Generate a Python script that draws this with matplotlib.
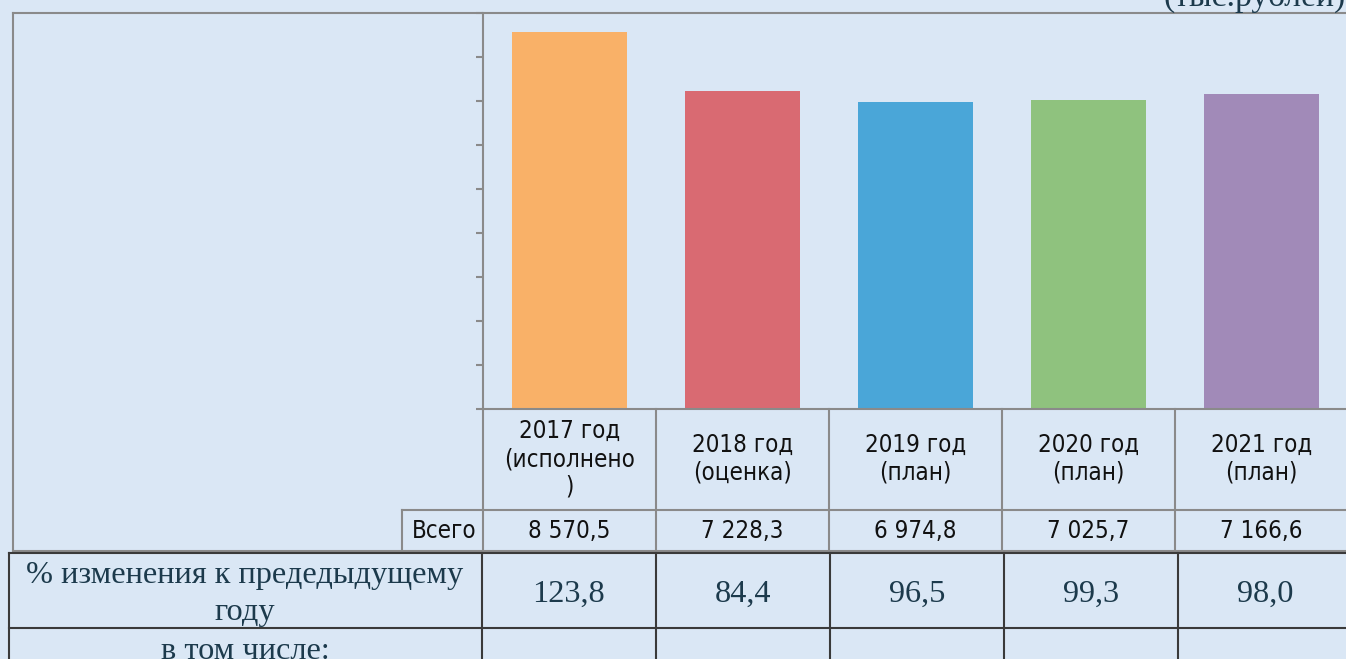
import matplotlib
matplotlib.use('Agg')
import matplotlib.pyplot as plt

W, H = 1346, 659

# data
categories = ['2017 год\n(исполнено\n)', '2018 год\n(оценка)', '2019 год\n(план)',
              '2020 год\n(план)', '2021 год\n(план)']
totals = [8570.5, 7228.3, 6974.8, 7025.7, 7166.6]
change_pct = [123.8, 84.4, 96.5, 99.3, 98.0]
bar_colors = ['#f9b168', '#d96a72', '#4aa6d8', '#8fc27e', '#a18ab8']
unit_label = '(тыс.рублей)'
total_label = 'Всего'
change_label = '% изменения к предедыдущему\nгоду'
incl_label = 'в том числе:'

SANS = dict(family='DejaVu Sans', fontstretch='condensed')
SERIF = dict(family='Liberation Serif')
GRAY = '#8a8a8a'
DARK = '#3a3a3a'
NAVY = '#1c3a4c'
SANS_SIZE = 17.3
SERIF_SIZE = 23.3


def fmt_total(v):
    return '{:,.1f}'.format(v).replace(',', ' ').replace('.', ',')


def fmt_pct(v):
    return '{:.1f}'.format(v).replace('.', ',')


fig = plt.figure(figsize=(W / 100, H / 100), dpi=100, facecolor='#dae7f5')

# bar area in pixel layout
left, right, top, bottom = 483, 1348, 13, 409
ax = fig.add_axes([left / W, 1 - bottom / H, (right - left) / W, (bottom - top) / H])
ax.set_facecolor('none')
x = list(range(len(totals)))
ax.bar(x, totals, width=0.66, color=bar_colors, zorder=2)
ax.set_xlim(-0.5, len(totals) - 0.5)
ax.set_ylim(0, 9000)
ax.set_yticks(range(0, 9001, 1000))
ax.set_yticklabels([])
ax.set_xticks([])
ax.tick_params(axis='y', direction='out', length=5, width=1.5, color=GRAY)
for s in ['top', 'right']:
    ax.spines[s].set_visible(False)
for s in ['left', 'bottom']:
    ax.spines[s].set_color(GRAY)
    ax.spines[s].set_linewidth(1.5)

# overlay in pixel coordinates for the table and frame
ov = fig.add_axes([0, 0, 1, 1], zorder=3)
ov.set_xlim(0, W)
ov.set_ylim(H, 0)
ov.axis('off')
ov.patch.set_alpha(0)

lw = 1.5
# chart frame
ov.plot([13, W], [13, 13], color=GRAY, lw=lw)
ov.plot([13, 13], [13, 551], color=GRAY, lw=lw)
ov.plot([13, 402], [551, 551], color=GRAY, lw=lw)

# upper table (header + totals)
col_w = (right - left) / len(totals)
edges = [left + i * col_w for i in range(len(totals) + 1)]
for e in edges:
    ov.plot([e, e], [409, 551], color=GRAY, lw=lw)
ov.plot([402, W], [510, 510], color=GRAY, lw=lw)
ov.plot([402, W], [551, 551], color=GRAY, lw=lw)
ov.plot([402, 402], [510, 551], color=GRAY, lw=lw)

for i, lab in enumerate(categories):
    cx = (edges[i] + edges[i + 1]) / 2
    ov.text(cx, 459, lab, ha='center', va='center', fontsize=SANS_SIZE, color='#111111',
            linespacing=1.2, **SANS)
    ov.text(cx, 531, fmt_total(totals[i]), ha='center', va='center', fontsize=SANS_SIZE,
            color='#111111', **SANS)
ov.text(476, 531, total_label, ha='right', va='center', fontsize=SANS_SIZE, color='#111111', **SANS)

# lower table
low_edges = [482, 655.7, 830, 1004, 1178]
ov.plot([8.5, W], [553, 553], color=DARK, lw=lw)
ov.plot([8.5, W], [627.5, 627.5], color=DARK, lw=lw)
ov.plot([8.5, 8.5], [553, H], color=DARK, lw=lw)
for e in low_edges:
    ov.plot([e, e], [553, H], color=DARK, lw=lw)
ov.text(245, 583, change_label.split('\n')[0], ha='center', va='baseline',
        fontsize=SERIF_SIZE, color=NAVY, **SERIF)
ov.text(245, 620, change_label.split('\n')[1], ha='center', va='baseline',
        fontsize=SERIF_SIZE, color=NAVY, **SERIF)
ov.text(245, 659, incl_label, ha='center', va='baseline', fontsize=SERIF_SIZE, color=NAVY, **SERIF)
cells = low_edges + [1352]
for i, v in enumerate(change_pct):
    cx = (cells[i] + cells[i + 1]) / 2
    ov.text(cx, 602, fmt_pct(v), ha='center', va='baseline', fontsize=SERIF_SIZE,
            color=NAVY, **SERIF)

ov.text(1346, 6, unit_label, ha='right', va='baseline', fontsize=SERIF_SIZE + 1, color=NAVY, **SERIF)

fig.savefig('out.png', dpi=100, facecolor=fig.get_facecolor())
